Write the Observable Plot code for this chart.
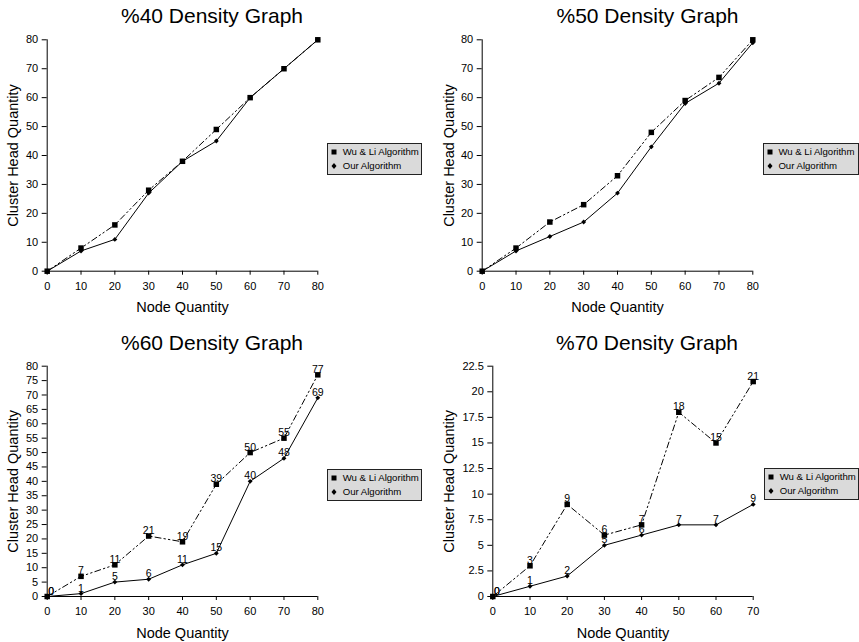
<!DOCTYPE html>
<html>
<head>
<meta charset="utf-8">
<script src="https://cdn.jsdelivr.net/npm/d3@7"></script>
<script src="https://cdn.jsdelivr.net/npm/@observablehq/plot@0.6"></script>
<style>
  html, body { margin: 0; padding: 0; background: #fff; }
  body { width: 859px; height: 642px; position: relative; overflow: hidden;
         font-family: "Liberation Sans", Arial, sans-serif; color: #000; }
  .title { position: absolute; font-size: 21px; line-height: 21px; white-space: nowrap; transform: translateX(-50%); }
  .panel { position: absolute; }
  .legend { position: absolute; box-sizing: border-box; border: 1px solid #222; background: #dadada;
            font-size: 9.6px; }
  .legend .row { position: absolute; left: 0; height: 12px; line-height: 12px; white-space: nowrap; }
  .legend svg { position: absolute; left: 2px; top: 1px; }
  .legend span { position: absolute; left: 14.7px; top: 0; }
</style>
</head>
<body>
<script>
// ---------- data ----------
const nodes80 = [0, 10, 20, 30, 40, 50, 60, 70, 80];
const nodes70 = [0, 10, 20, 30, 40, 50, 60, 70];

const wu40  = [0, 8, 16, 28, 38, 49, 60, 70, 80];
const our40 = [0, 7, 11, 27, 38, 45, 60, 70, 80];

const wu50  = [0, 8, 17, 23, 33, 48, 59, 67, 80];
const our50 = [0, 7, 12, 17, 27, 43, 58, 65, 79];

const wu60  = [0, 7, 11, 21, 19, 39, 50, 55, 77];
const our60 = [0, 1, 5, 6, 11, 15, 40, 48, 69];

const wu70  = [0, 3, 9, 6, 7, 18, 15, 21];
const our70 = [0, 1, 2, 5, 6, 7, 7, 9];

const yTicksA = [0, 10, 20, 30, 40, 50, 60, 70, 80];
const yTicksB = [0, 5, 10, 15, 20, 25, 30, 35, 40, 45, 50, 55, 60, 65, 70, 75, 80];
const yTicksC = [0, 2.5, 5, 7.5, 10, 12.5, 15, 17.5, 20, 22.5];

const titles = ["%40 Density Graph", "%50 Density Graph", "%60 Density Graph", "%70 Density Graph"];
const seriesNames = ["Wu & Li Algorithm", "Our Algorithm"];
const xLabel = "Node Quantity";
const yLabel = "Cluster Head Quantity";

// ---------- layout ----------
const panels = [
  {title: titles[0], tx: 212, ty: 5.2, left: 0, top: 30, width: 430, height: 290,
   mL: 46.7, mR: 112.7, mT: 9.3, mB: 49.3, x: nodes80, wu: wu40, our: our40,
   xDomain: [0, 80], yDomain: [0, 80], yTicks: yTicksA, labels: false, yLabDx: -33.7,
   legend: {left: 327, top: 143, width: 95}},
  {title: titles[1], tx: 647.5, ty: 5.2, left: 430, top: 30, width: 429, height: 290,
   mL: 51.7, mR: 106.7, mT: 9.3, mB: 49.3, x: nodes80, wu: wu50, our: our50,
   xDomain: [0, 80], yDomain: [0, 80], yTicks: yTicksA, labels: false, yLabDx: -33.3,
   legend: {left: 762.7, top: 143, width: 96}},
  {title: titles[2], tx: 212, ty: 331.5, left: 0, top: 350, width: 430, height: 292,
   mL: 46.7, mR: 112.7, mT: 15.7, mB: 46, x: nodes80, wu: wu60, our: our60,
   xDomain: [0, 80], yDomain: [0, 80], yTicks: yTicksB, labels: true, yLabDx: -33.7,
   legend: {left: 327, top: 468.7, width: 95}},
  {title: titles[3], tx: 647, ty: 331.5, left: 430, top: 350, width: 429, height: 292,
   mL: 62.3, mR: 106.3, mT: 15.7, mB: 46, x: nodes70, wu: wu70, our: our70,
   xDomain: [0, 70], yDomain: [0, 22.5], yTicks: yTicksC, labels: true, yLabDx: -43.9,
   legend: {left: 764, top: 468, width: 95}}
];

const dash = "6,3,1.5,3,1.5,3";

for (const p of panels) {
  const t = document.createElement("div");
  t.className = "title";
  t.textContent = p.title;
  t.style.left = p.tx + "px";
  t.style.top = p.ty + "px";
  document.body.appendChild(t);

  const wu = p.x.map((x, i) => ({x, y: p.wu[i]}));
  const our = p.x.map((x, i) => ({x, y: p.our[i]}));

  const marks = [
    Plot.ruleY([0], {stroke: "#000", strokeWidth: 1}),
    Plot.ruleX([0], {stroke: "#000", strokeWidth: 1}),
    Plot.axisX({ticks: p.x, tickSize: 4, tickPadding: 7, label: null, tickFormat: d => String(d), fontSize: 11}),
    Plot.axisY({ticks: p.yTicks, tickSize: 5, tickPadding: 4, label: null, tickFormat: d => String(d), fontSize: 11}),
    Plot.line(wu, {x: "x", y: "y", stroke: "#000", strokeWidth: 1, strokeDasharray: dash}),
    Plot.line(our, {x: "x", y: "y", stroke: "#000", strokeWidth: 1}),
    Plot.dot(wu, {x: "x", y: "y", symbol: "square", r: 3.1, fill: "#000"}),
    Plot.dot(our, {x: "x", y: "y", symbol: "diamond2", r: 2.2, fill: "#000"}),
    Plot.text([xLabel], {text: d => d, frameAnchor: "bottom", dy: 36.5, fontSize: 14.5, lineAnchor: "middle", textAnchor: "middle"}),
    Plot.text([yLabel], {text: d => d, frameAnchor: "left", dx: p.yLabDx, rotate: -90, fontSize: 14.5, lineAnchor: "middle", textAnchor: "middle"})
  ];
  if (p.labels) {
    for (const s of [wu, our]) {
      marks.push(Plot.text(s.filter(d => d.x !== 0), {x: "x", y: "y", text: d => String(d.y), dy: -2, lineAnchor: "bottom", fontSize: 10.5, fill: "#000"}));
      marks.push(Plot.text(s.filter(d => d.x === 0), {x: "x", y: "y", text: d => String(d.y), dx: 4, dy: -2, lineAnchor: "bottom", fontSize: 10.5, fill: "#000"}));
    }
  }

  const chart = Plot.plot({
    width: p.width, height: p.height,
    marginLeft: p.mL, marginRight: p.mR, marginTop: p.mT, marginBottom: p.mB,
    x: {domain: p.xDomain, type: "linear"},
    y: {domain: p.yDomain, type: "linear"},
    style: {background: "transparent", fontFamily: "'Liberation Sans', Arial, sans-serif", fontSize: "11px", color: "#000", overflow: "visible"},
    marks
  });
  const wrap = document.createElement("div");
  wrap.className = "panel";
  wrap.style.left = p.left + "px";
  wrap.style.top = p.top + "px";
  wrap.appendChild(chart);
  document.body.appendChild(wrap);

  // legend
  const lg = document.createElement("div");
  lg.className = "legend";
  lg.style.left = p.legend.left + "px";
  lg.style.top = p.legend.top + "px";
  lg.style.width = p.legend.width + "px";
  lg.style.height = "32px";
  const symbols = [
    '<svg width="8" height="10"><rect x="1.5" y="2.5" width="5" height="5" fill="#000"/></svg>',
    '<svg width="8" height="10"><path d="M4 2 L6.5 5 L4 8 L1.5 5 Z" fill="#000"/></svg>'
  ];
  seriesNames.forEach((name, i) => {
    const row = document.createElement("div");
    row.className = "row";
    row.style.top = (2.3 + i * 13.7) + "px";
    row.innerHTML = symbols[i];
    const sp = document.createElement("span");
    sp.textContent = name;
    row.appendChild(sp);
    lg.appendChild(row);
  });
  document.body.appendChild(lg);
}
</script>
</body>
</html>
